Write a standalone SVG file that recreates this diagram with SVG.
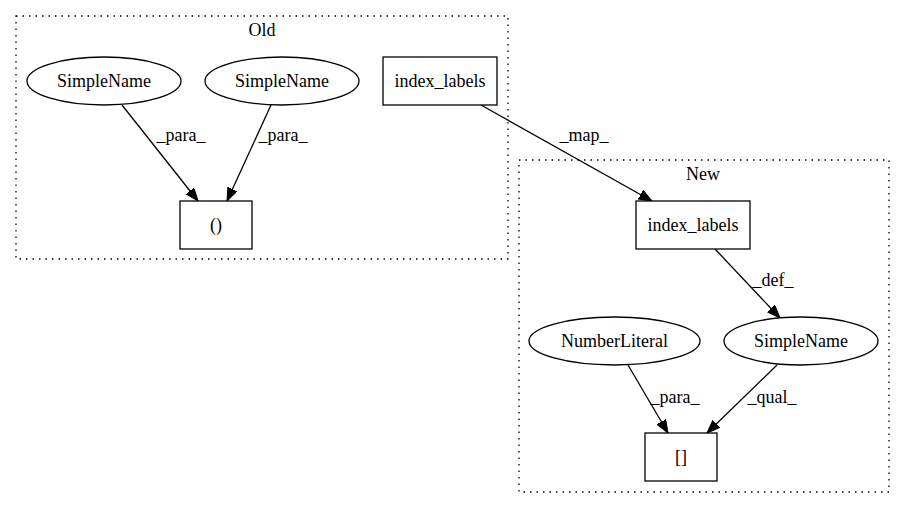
<svg xmlns="http://www.w3.org/2000/svg" width="905" height="508" viewBox="0 0 905 508">
<style>
text{font-family:"Liberation Serif","Times New Roman",serif;font-size:18px;text-anchor:middle;fill:#000}
.cl{fill:none;stroke:#000;stroke-width:1.3;stroke-dasharray:1.5,5}
.n{fill:#fff;stroke:#000;stroke-width:1.3}
.e{fill:none;stroke:#000;stroke-width:1.3;marker-end:url(#ah)}
</style>
<defs>
<marker id="ah" markerUnits="userSpaceOnUse" markerWidth="14" markerHeight="11" refX="13" refY="5" orient="auto">
<path d="M0,0 L13,5 L0,10 z" fill="#000" stroke="#000"/>
</marker>
</defs>
<rect width="905" height="508" fill="#fff"/>
<g id="cluster_old">
<rect class="cl" x="16" y="16" width="492" height="243"/>
<text x="262" y="36">Old</text>
</g>
<g id="cluster_new">
<rect class="cl" x="519" y="160" width="370" height="332"/>
<text x="703" y="180">New</text>
</g>
<g id="edges">
<path class="e" d="M122,105 L198,201"/>
<text x="181" y="141">_para_</text>
<path class="e" d="M271,105 L227,201"/>
<text x="283" y="141">_para_</text>
<path class="e" d="M481,105 L652,201"/>
<text x="584" y="141">_map_</text>
<path class="e" d="M715,249 L780,318"/>
<text x="773" y="286">_def_</text>
<path class="e" d="M628,365 L668,433"/>
<text x="675" y="403">_para_</text>
<path class="e" d="M777,365 L707,433"/>
<text x="772" y="403">_qual_</text>
</g>
<g id="old_simplename1">
<ellipse class="n" cx="104" cy="81" rx="77" ry="24"/>
<text x="104" y="87">SimpleName</text>
</g>
<g id="old_simplename2">
<ellipse class="n" cx="282" cy="81" rx="77" ry="24"/>
<text x="282" y="87">SimpleName</text>
</g>
<g id="old_index_labels">
<rect class="n" x="383" y="57" width="114" height="48"/>
<text x="440" y="87">index_labels</text>
</g>
<g id="old_paren">
<rect class="n" x="180" y="201" width="72" height="48"/>
<text x="216" y="231">()</text>
</g>
<g id="new_index_labels">
<rect class="n" x="636" y="201" width="114" height="48"/>
<text x="693" y="231">index_labels</text>
</g>
<g id="new_numberliteral">
<ellipse class="n" cx="614.5" cy="341" rx="85.5" ry="24"/>
<text x="614.5" y="347">NumberLiteral</text>
</g>
<g id="new_simplename">
<ellipse class="n" cx="801" cy="341" rx="77" ry="24"/>
<text x="801" y="347">SimpleName</text>
</g>
<g id="new_bracket">
<rect class="n" x="645" y="433" width="72" height="48"/>
<text x="681" y="463">[]</text>
</g>
</svg>
